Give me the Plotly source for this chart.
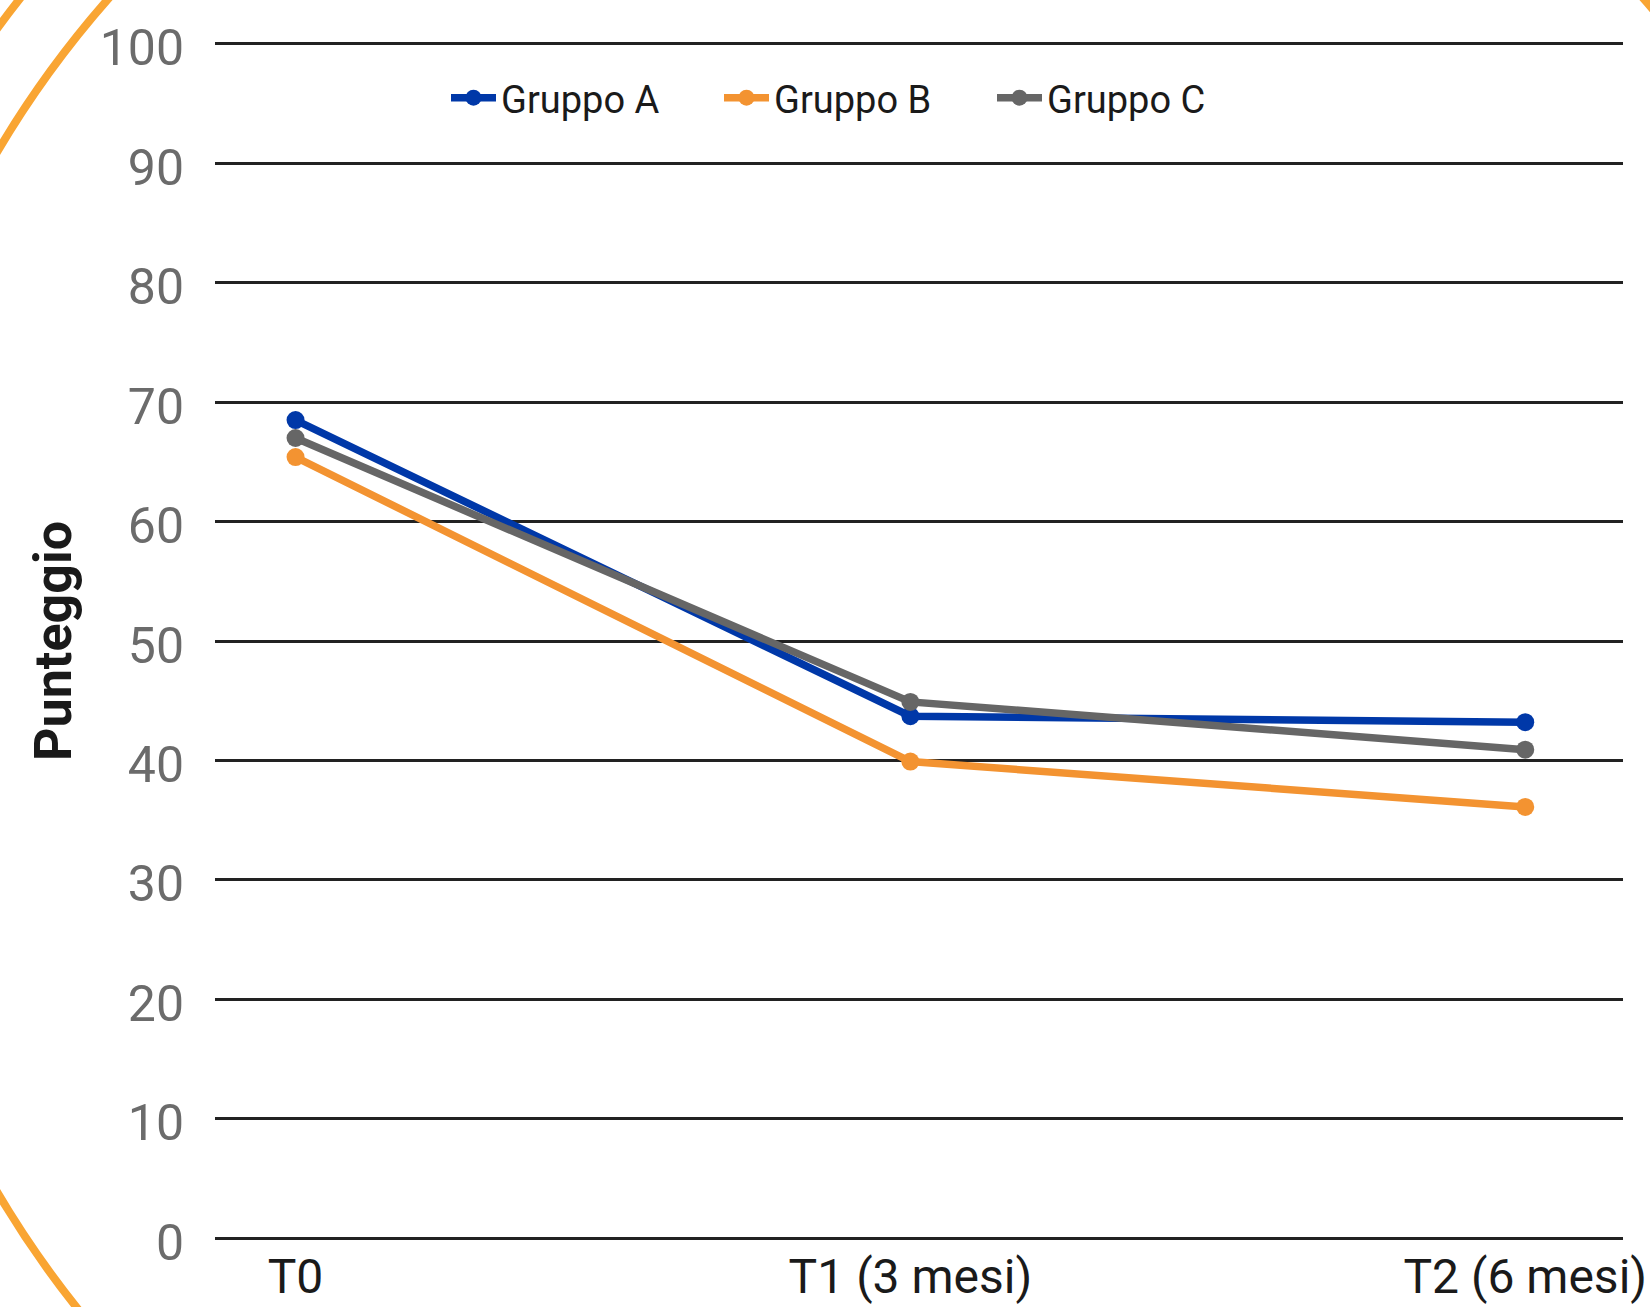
import plotly.graph_objects as go

categories = ["T0", "T1 (3 mesi)", "T2 (6 mesi)"]
gruppo_a = [68.5, 43.7, 43.2]
gruppo_b = [65.4, 39.9, 36.1]
gruppo_c = [67.0, 44.9, 40.9]
y_ticks = [0, 10, 20, 30, 40, 50, 60, 70, 80, 90, 100]

W, H = 1650, 1307
ML, MR, MT, MB = 215, 27, 38, 63
PW, PH = W - ML - MR, H - MT - MB

def px_x(px):
    return (px - ML) / PW

def px_y(py):
    return (H - MB - py) / PH

fig = go.Figure()
series = [("Gruppo A", gruppo_a, "#0038A8"),
          ("Gruppo B", gruppo_b, "#F39331"),
          ("Gruppo C", gruppo_c, "#666666")]
for name, vals, col in series:
    fig.add_trace(go.Scatter(
        x=[0, 1, 2], y=vals, name=name, mode="lines+markers",
        line=dict(color=col, width=7.5),
        marker=dict(color=col, size=18),
    ))

# decorative orange rings
cx, cy = 876, 672
for r in (1021, 1089):
    fig.add_shape(type="circle", xref="paper", yref="paper",
                  x0=px_x(cx - r), x1=px_x(cx + r),
                  y0=px_y(cy + r), y1=px_y(cy - r),
                  line=dict(color="#F9A533", width=8), layer="below")

fig.update_layout(
    width=W, height=H,
    margin=dict(l=ML, r=MR, t=MT, b=MB, autoexpand=False),
    paper_bgcolor="white", plot_bgcolor="white",
    font=dict(family="Roboto, sans-serif", color="#1a1a1a"),
    showlegend=True,
    legend=dict(orientation="h", x=px_x(446), xanchor="left",
                y=px_y(98), yanchor="middle",
                font=dict(size=38, color="#1a1a1a"),
                bgcolor="rgba(0,0,0,0)", itemwidth=45, entrywidth=213,
                traceorder="normal"),
    xaxis=dict(range=[-0.131, 2.159], tickmode="array",
               tickvals=[0, 1, 2], ticktext=categories,
               showgrid=False, zeroline=False, showline=False,
               ticks="", tickfont=dict(size=48, color="#1a1a1a"),
               ticklabelstandoff=0),
    yaxis=dict(range=[-0.5, 100.5], tickmode="array", tickvals=y_ticks,
               showgrid=True, gridcolor="#222222", gridwidth=2.5,
               zeroline=False, showline=False, ticks="",
               tickfont=dict(size=50, color="#6b6b6b"),
               ticklabelstandoff=30, ticklabelshift=4,
               title=dict(text="<b>Punteggio</b>", standoff=11,
                          font=dict(size=52, color="#1a1a1a"))),
)

fig.write_html("out.html")
